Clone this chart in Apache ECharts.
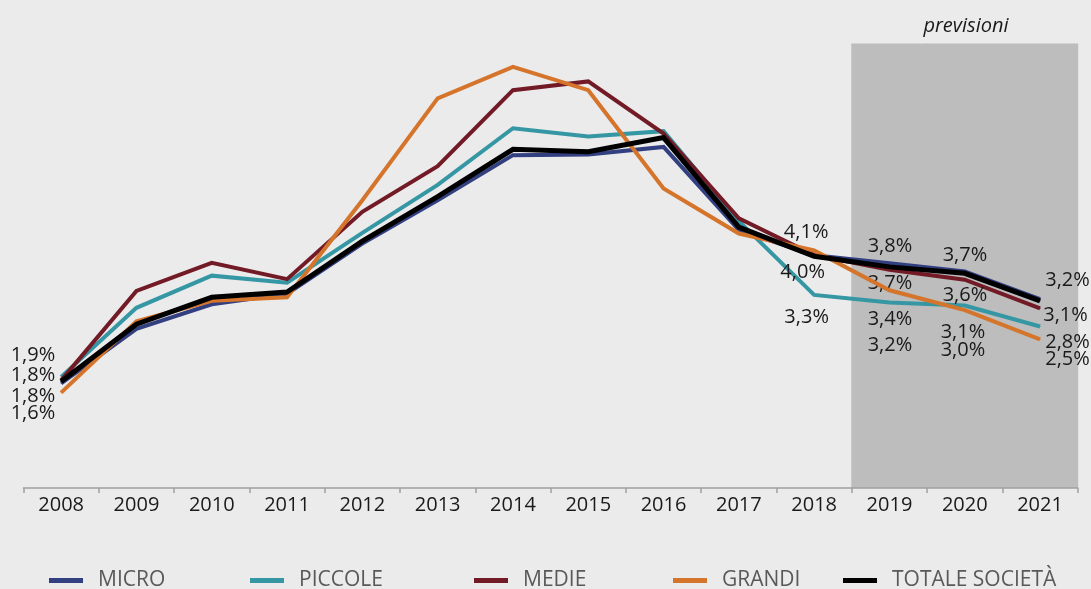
<!DOCTYPE html>
<html>
<head>
<meta charset="utf-8">
<script src="https://cdn.jsdelivr.net/npm/echarts@6/dist/echarts.min.js"></script>
<style>
html,body{margin:0;padding:0;background:#ebebeb;}
#chart{width:1091px;height:589px;}
</style>
</head>
<body>
<div id="chart"></div>
<script>
// ---- data ----
var years = ['2008','2009','2010','2011','2012','2013','2014','2015','2016','2017','2018','2019','2020','2021'];
var micro   = [1.79, 2.72, 3.14, 3.32, 4.18, 4.92, 5.69, 5.70, 5.83, 4.41, 3.98, 3.84, 3.70, 3.23];
var piccole = [1.90, 3.08, 3.63, 3.51, 4.36, 5.18, 6.15, 6.01, 6.10, 4.56, 3.30, 3.17, 3.12, 2.76];
var medie   = [1.84, 3.37, 3.85, 3.57, 4.72, 5.50, 6.80, 6.95, 6.06, 4.61, 3.98, 3.73, 3.56, 3.07];
var grandi  = [1.63, 2.85, 3.20, 3.26, 4.92, 6.66, 7.20, 6.80, 5.12, 4.35, 4.06, 3.38, 3.04, 2.54];
var totale  = [1.82, 2.80, 3.26, 3.35, 4.22, 4.98, 5.79, 5.75, 5.99, 4.46, 3.96, 3.78, 3.67, 3.20];
var forecastYears = ['2019', '2020', '2021'];
var forecastTop = 7.6;
var forecastLabel = 'previsioni';
var seriesNames = ['MICRO', 'PICCOLE', 'MEDIE', 'GRANDI', 'TOTALE SOCIETÀ'];

// ---- styles ----
var colors = ['#323f80', '#3597a4', '#721b26', '#d5742b', '#000000'];
var widths = [4, 4, 4, 4, 5];
var FONT = "'Open Sans', 'Noto Sans', sans-serif";
// label offsets (index -> [dx, dy]) per series
var labelOffsets = [
  {},
  {0: [-28.2, -21.4], 10: [-7.5, 22.1], 11: [0.5, 42.9], 12: [-1.8, 27], 13: [27.5, 16]},
  {0: [-28.2, 15.6], 11: [0.5, 13.7], 12: [0.2, 15.8], 13: [25.5, 7.1]},
  {0: [-28.2, 20.9], 10: [-8.0, -18.6], 11: [0.5, 29.2], 12: [-1.8, 40.3], 13: [27.5, 20.1]},
  {0: [-28.2, -6.5], 10: [-11.5, 16.2], 11: [0.5, -20.4], 12: [0.2, -17.8], 13: [27.5, -20.3]}
];

function fmt(v) { return (Math.round(v * 10) / 10).toFixed(1).replace('.', ',') + '%'; }

var dataSets = [micro, piccole, medie, grandi, totale];
var lineSeries = dataSets.map(function (arr, s) {
  return {
    name: seriesNames[s],
    type: 'line',
    data: arr.map(function (v, i) {
      var off = labelOffsets[s][i];
      if (off) {
        return {value: v, label: {show: true, position: 'inside', offset: off}};
      }
      return v;
    }),
    symbol: 'circle',
    symbolSize: 1,
    showSymbol: true,
    color: colors[s],
    itemStyle: {color: colors[s]},
    lineStyle: {color: colors[s], width: widths[s], join: 'miter'},
    label: {
      show: false,
      formatter: function (p) { return fmt(p.value); },
      fontSize: 20,
      fontFamily: FONT,
      color: '#1a1a1a',
      align: 'center',
      verticalAlign: 'middle'
    },
    emphasis: {disabled: true},
    animation: false,
    z: 3 + s
  };
});

var bandSeries = {
  name: 'band',
  type: 'custom',
  data: forecastYears.map(function (y) { return [y, forecastTop]; }),
  encode: {x: 0, y: 1},
  silent: true,
  animation: false,
  z: 1,
  renderItem: function (params, api) {
    var top = api.coord([api.value(0), api.value(1)]);
    var base = api.coord([api.value(0), 0]);
    var w = api.size([1, 0])[0];
    return {
      type: 'rect',
      shape: {x: top[0] - w / 2 - 0.5, y: top[1], width: w + 1, height: base[1] - top[1]},
      style: {fill: '#bdbdbd'}
    };
  }
};

var legendLefts = [49, 250, 474, 673, 843];
var legends = seriesNames.map(function (n, i) {
  return {
    data: [n],
    left: legendLefts[i],
    top: 570,
    padding: 0,
    icon: 'rect',
    itemWidth: 34,
    itemHeight: 5,
    selectedMode: false,
    textStyle: {fontSize: 21, fontFamily: FONT, color: '#595959', padding: [0, 0, 0, 10]}
  };
});

var chart = echarts.init(document.getElementById('chart'), null, {renderer: 'canvas'});
chart.setOption({
  backgroundColor: '#ebebeb',
  animation: false,
  grid: {left: 23.5, right: 13.3, top: 20, bottom: 101, containLabel: false},
  legend: legends,
  graphic: [{
    type: 'text',
    x: 966, y: 26,
    style: {
      text: forecastLabel,
      font: "italic 20px 'Open Sans', 'Noto Sans', sans-serif",
      fill: '#1a1a1a',
      textAlign: 'center',
      textVerticalAlign: 'middle'
    }
  }],
  xAxis: {
    type: 'category',
    data: years,
    boundaryGap: true,
    axisLine: {show: true, lineStyle: {color: '#a0a0a0', width: 1.5}},
    axisTick: {show: true, length: 5, lineStyle: {color: '#a0a0a0', width: 1.5}},
    axisLabel: {fontSize: 20, fontFamily: FONT, color: '#1a1a1a', margin: 7, interval: 0},
    splitLine: {show: false},
    z: 10
  },
  yAxis: {
    type: 'value',
    min: 0,
    max: 8,
    show: false,
    splitLine: {show: false}
  },
  series: [bandSeries].concat(lineSeries)
});
</script>
</body>
</html>
